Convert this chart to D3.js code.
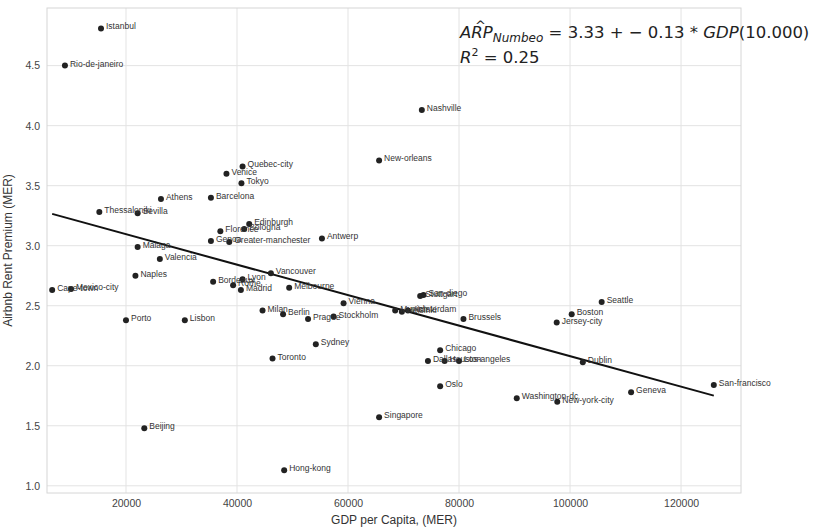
<!DOCTYPE html>
<html>
<head>
<meta charset="utf-8">
<script src="https://cdn.jsdelivr.net/npm/d3@7"></script>
<style>
  body { margin: 0; background: #fff; }
  svg { font-family: "Liberation Sans", Arial, sans-serif; }
</style>
</head>
<body>
<div id="chart"></div>
<script>
// city data
var cities = ["Istanbul", "Rio-de-janeiro", "Nashville", "New-orleans", "Quebec-city", "Venice", "Tokyo",
  "Barcelona", "Athens", "Thessaloniki", "Sevilla", "Malaga", "Valencia", "Naples", "Cape-town", "Mexico-city",
  "Porto", "Lisbon", "Beijing", "Bordeaux", "Lyon", "Rome", "Madrid", "Vancouver", "Melbourne", "Milan",
  "Berlin", "Prague", "Stockholm", "Vienna", "Sydney", "Toronto", "Edinburgh", "Bologna", "Florence", "Genoa",
  "Greater-manchester", "Antwerp", "Stuttgart", "San-diego", "Munich", "Helsinki", "Amsterdam", "Brussels",
  "Chicago", "Dallas", "Houston", "Los-angeles", "Oslo", "Washington-dc", "Singapore", "Hong-kong",
  "New-york-city", "Geneva", "San-francisco", "Dublin", "Boston", "Jersey-city", "Seattle"];
var gdp = [15500, 9000, 73300, 65600, 41000, 38100, 40800,
  35300, 26300, 15200, 22100, 22100, 26100, 21700, 6700, 10100,
  20000, 30600, 23300, 35700, 41000, 39300, 40700, 46100, 49400, 44600,
  48300, 52800, 57400, 59200, 54200, 46400, 42200, 41300, 37000, 35300,
  38600, 55300, 73000, 73600, 68500, 69700, 70800, 80800,
  76600, 74400, 77400, 80000, 76600, 90400, 65600, 48500,
  97700, 111000, 125900, 102300, 100300, 97600, 105700];
var premium = [4.81, 4.50, 4.13, 3.71, 3.66, 3.60, 3.52,
  3.40, 3.39, 3.28, 3.27, 2.99, 2.89, 2.75, 2.63, 2.64,
  2.38, 2.38, 1.48, 2.70, 2.72, 2.67, 2.63, 2.77, 2.65, 2.46,
  2.43, 2.39, 2.41, 2.52, 2.18, 2.06, 3.18, 3.14, 3.12, 3.04,
  3.03, 3.06, 2.58, 2.59, 2.46, 2.45, 2.46, 2.39,
  2.13, 2.04, 2.04, 2.04, 1.83, 1.73, 1.57, 1.13,
  1.70, 1.78, 1.84, 2.03, 2.43, 2.36, 2.53];

// fitted line as shown in the picture (per 10.000 GDP)
var fitIntercept = 3.35;
var fitSlope = -0.127;

var xTicks = [20000, 40000, 60000, 80000, 100000, 120000];
var yTicks = [1.0, 1.5, 2.0, 2.5, 3.0, 3.5, 4.0, 4.5];

var data = cities.map(function(c, i) { return {city: c, gdp: gdp[i], arp: premium[i]}; });

var margin = {top: 8, right: 85, bottom: 35, left: 47},
    width = 826 - margin.left - margin.right,
    height = 528 - margin.top - margin.bottom;

var x = d3.scaleLinear().domain([5770, 130800]).range([0, width]);
var y = d3.scaleLinear().domain([0.94, 4.98]).range([height, 0]);

var svg = d3.select("#chart").append("svg")
    .attr("width", 826)
    .attr("height", 528)
  .append("g")
    .attr("transform", "translate(" + margin.left + "," + margin.top + ")");

// grid
svg.append("g")
    .selectAll("line").data(xTicks).enter().append("line")
    .attr("x1", function(d) { return x(d); }).attr("x2", function(d) { return x(d); })
    .attr("y1", 0).attr("y2", height)
    .attr("stroke", "#e3e3e3").attr("stroke-width", 1);
svg.append("g")
    .selectAll("line").data(yTicks).enter().append("line")
    .attr("y1", function(d) { return y(d); }).attr("y2", function(d) { return y(d); })
    .attr("x1", 0).attr("x2", width)
    .attr("stroke", "#e3e3e3").attr("stroke-width", 1);

// frame
svg.append("rect")
    .attr("width", width).attr("height", height)
    .attr("fill", "none").attr("stroke", "#d6d6d6").attr("stroke-width", 1);

// axes (labels only)
var xAxis = svg.append("g")
    .attr("transform", "translate(0," + height + ")")
    .call(d3.axisBottom(x).tickValues(xTicks).tickFormat(d3.format("d")).tickSize(0).tickPadding(7));
var yAxis = svg.append("g")
    .call(d3.axisLeft(y).tickValues(yTicks).tickFormat(d3.format(".1f")).tickSize(0).tickPadding(7));
[xAxis, yAxis].forEach(function(a) {
  a.select(".domain").remove();
  a.selectAll("text").attr("fill", "#444").attr("font-size", "10.5px")
    .attr("font-family", "'Liberation Sans', Arial, sans-serif");
});

// axis titles
svg.append("text")
    .attr("x", width / 2).attr("y", height + 31)
    .attr("text-anchor", "middle").attr("font-size", "12px").attr("fill", "#333")
    .text("GDP per Capita, (MER)");
svg.append("text")
    .attr("transform", "translate(" + (-35) + "," + (height / 2) + ") rotate(-90)")
    .attr("text-anchor", "middle").attr("font-size", "12px").attr("fill", "#333")
    .text("Airbnb Rent Premium (MER)");

// regression line
var ext = d3.extent(gdp);
svg.append("path")
    .datum(ext)
    .attr("fill", "none")
    .attr("stroke", "#111")
    .attr("stroke-width", 2)
    .attr("d", d3.line()
      .x(function(d) { return x(d); })
      .y(function(d) { return y(fitIntercept + fitSlope * d / 10000); }));

// points
svg.append("g").selectAll("circle").data(data).enter().append("circle")
    .attr("cx", function(d) { return x(d.gdp); })
    .attr("cy", function(d) { return y(d.arp); })
    .attr("r", 3)
    .attr("fill", "#222");

// city labels
svg.append("g").selectAll("text").data(data).enter().append("text")
    .attr("x", function(d) { return x(d.gdp) + 5; })
    .attr("y", function(d) { return y(d.arp) + 1; })
    .attr("font-size", "8.5px")
    .attr("fill", "#333")
    .text(function(d) { return d.city; });

// formula annotation
var ann = svg.append("g")
    .attr("font-family", "'DejaVu Sans', sans-serif")
    .attr("fill", "#222")
    .attr("font-size", "16.5px");
var t1 = ann.append("text").attr("x", 413).attr("y", 30);
t1.append("tspan").attr("font-style", "italic").text("ARP");
t1.append("tspan").attr("font-style", "italic").attr("font-size", "12px").attr("dy", 4).text("Numbeo");
t1.append("tspan").attr("dy", -4).text(" = 3.33 + \u2212 0.13 * ");
t1.append("tspan").attr("font-style", "italic").text("GDP");
t1.append("tspan").text("(10.000)");
ann.append("text").attr("x", 428).attr("y", 22).attr("font-size", "13px").text("^");
var t2 = ann.append("text").attr("x", 413).attr("y", 55);
t2.append("tspan").attr("font-style", "italic").text("R");
t2.append("tspan").attr("font-size", "11px").attr("dy", -7).text("2");
t2.append("tspan").attr("dy", 7).text(" = 0.25");
</script>
</body>
</html>
